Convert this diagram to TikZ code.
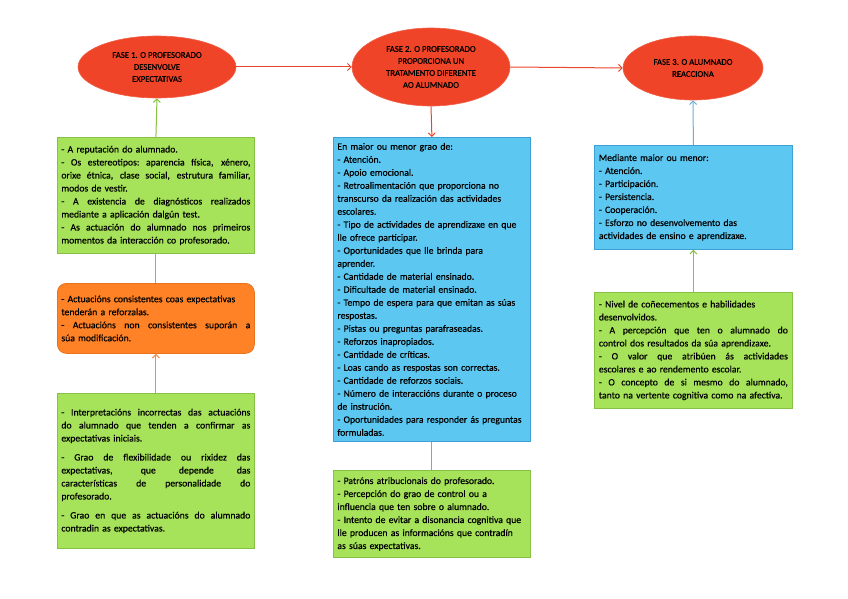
\documentclass[tikz,border=0pt]{standalone}
\usepackage{fontspec}
\setmainfont{Carlito}
\newfontfamily\bxfont{Carlito}[FakeBold=0.5]
\usetikzlibrary{arrows.meta,shapes.geometric}
\definecolor{redE}{HTML}{EF4428}
\definecolor{redL}{HTML}{E8452B}
\definecolor{greenF}{HTML}{A6E25A}
\definecolor{greenD}{HTML}{86C044}
\definecolor{orangeF}{HTML}{FF8226}
\definecolor{orangeD}{HTML}{E8721E}
\definecolor{blueF}{HTML}{5CC8F2}
\definecolor{blueD}{HTML}{3E9FD3}
\definecolor{blueL}{HTML}{6AAED6}
\newcommand\Jl[1]{\leavevmode\hbox to 189pt{\spaceskip 0.23em plus 1fil\relax\xspaceskip 0.23em plus 1fil\relax #1}}
\newcommand\myboxfont{\bxfont\fontsize{9.7}{13}\selectfont\hyphenpenalty 10000\relax\exhyphenpenalty 10000\relax}
\tikzset{
  phase/.style={ellipse, fill=redE, draw=redE!85!white, line width=0.6pt, align=center,
    font=\bxfont\fontsize{8.7}{12}\selectfont, inner sep=0pt},
  boxbase/.style={rectangle, line width=0.8pt, text width=189pt, inner xsep=4pt, align=left,
    font=\myboxfont, text=black, anchor=north west},
  gbox/.style={boxbase, fill=greenF, draw=greenD},
  bbox/.style={boxbase, fill=blueF, draw=blueD},
  obox/.style={boxbase, fill=orangeF, draw=orangeD, rounded corners=9pt},
  arr/.style={line width=1pt, -{Straight Barb[length=3.5pt,width=7pt]}},
  ln/.style={line width=1pt}
}
\begin{document}
\begin{tikzpicture}[x=1pt,y=-1pt]
\useasboundingbox (0,0) rectangle (848,599);
% phases
\node[phase, minimum width=158pt, minimum height=62pt] (e1) at (157,67) {FASE 1. O PROFESORADO\\DESENVOLVE\\EXPECTATIVAS};
\node[phase, minimum width=158pt, minimum height=78pt] (e2) at (431,67) {FASE 2. O PROFESORADO\\PROPORCIONA UN\\TRATAMENTO DIFERENTE\\AO ALUMNADO};
\node[phase, minimum width=140pt, minimum height=64pt] (e3) at (693,68) {FASE 3. O ALUMNADO\\REACCIONA};
% left column
\node[gbox, minimum width=197pt, minimum height=116pt] (g1) at (57,137) {%
- A reputación do alumnado.\\
\Jl{- Os estereotipos: aparencia física, xénero,}\\
\Jl{orixe étnica, clase social, estrutura familiar,}\\
modos de vestir.\\
\Jl{- A existencia de diagnósticos realizados}\\
mediante a aplicación dalgún test.\\
\Jl{- As actuación do alumnado nos primeiros}\\
momentos da interacción co profesorado.};
\node[obox, minimum width=197pt, minimum height=70pt] (o1) at (57,283) {%
- Actuacións consistentes coas expectativas\\
tenderán a reforzalas.\\
\Jl{- Actuacións non consistentes suporán a}\\
súa modificación.};
\node[gbox, minimum width=197pt, minimum height=155pt] (g3) at (57,393) {%
\Jl{- Interpretacións incorrectas das actuacións}\\
\Jl{do alumnado que tenden a confirmar as}\\
expectativas iniciais.\\[6pt]
\Jl{- Grao de flexibilidade ou rixidez das}\\
\Jl{expectativas, que depende das}\\
\Jl{características de personalidade do}\\
profesorado.\\[6pt]
\Jl{- Grao en que as actuacións do alumnado}\\
contradin as expectativas.};
% middle column
\node[bbox, minimum width=197pt, minimum height=304pt] (b2) at (333,137) {%
En maior ou menor grao de:\\
- Atención.\\
- Apoio emocional.\\
- Retroalimentación que proporciona no\\
transcurso da realización das actividades\\
escolares.\\
- Tipo de actividades de aprendizaxe en que\\
lle ofrece participar.\\
- Oportunidades que lle brinda para\\
aprender.\\
- Cantidade de material ensinado.\\
- Dificultade de material ensinado.\\
- Tempo de espera para que emitan as súas\\
respostas.\\
- Pistas ou preguntas parafraseadas.\\
- Reforzos inapropiados.\\
- Cantidade de críticas.\\
- Loas cando as respostas son correctas.\\
- Cantidade de reforzos sociais.\\
- Número de interaccións durante o proceso\\
de instrución.\\
- Oportunidades para responder ás preguntas\\
formuladas.};
\node[gbox, minimum width=197pt, minimum height=87pt] (g2) at (333,470) {%
- Patróns atribucionais do profesorado.\\
- Percepción do grao de control ou a\\
influencia que ten sobre o alumnado.\\
- Intento de evitar a disonancia cognitiva que\\
lle producen as informacións que contradín\\
as súas expectativas.};
% right column
\node[bbox, minimum width=198pt, minimum height=104pt] (b3) at (594,145) {%
Mediante maior ou menor:\\
- Atención.\\
- Participación.\\
- Persistencia.\\
- Cooperación.\\
- Esforzo no desenvolvemento das\\
actividades de ensino e aprendizaxe.};
\node[gbox, minimum width=198pt, minimum height=116pt] (g4) at (594,292) {%
- Nivel de coñecementos e habilidades\\
desenvolvidos.\\
\Jl{- A percepción que ten o alumnado do}\\
control dos resultados da súa aprendizaxe.\\
\Jl{- O valor que atribúen ás actividades}\\
escolares e ao rendemento escolar.\\
\Jl{- O concepto de si mesmo do alumnado,}\\
tanto na vertente cognitiva como na afectiva.};
% connectors
\draw[arr, redL] (e1.east) -- (e2.west);
\draw[arr, redL] (e2.east) -- (e3.west);
\draw[arr, redL] (e2.south) -- (b2.north);
\draw[arr, greenD] (g1.north) -- (e1.south);
\draw[ln, greenD] (g1.south) -- (o1.north);
\draw[arr, orangeD!80!white] (g3.north) -- (o1.south);
\draw[ln, blueL] (b2.south) -- (g2.north);
\draw[arr, blueL] (b3.north) -- (e3.south);
\draw[arr, greenD] (g4.north) -- (b3.south);
\end{tikzpicture}
\end{document}
